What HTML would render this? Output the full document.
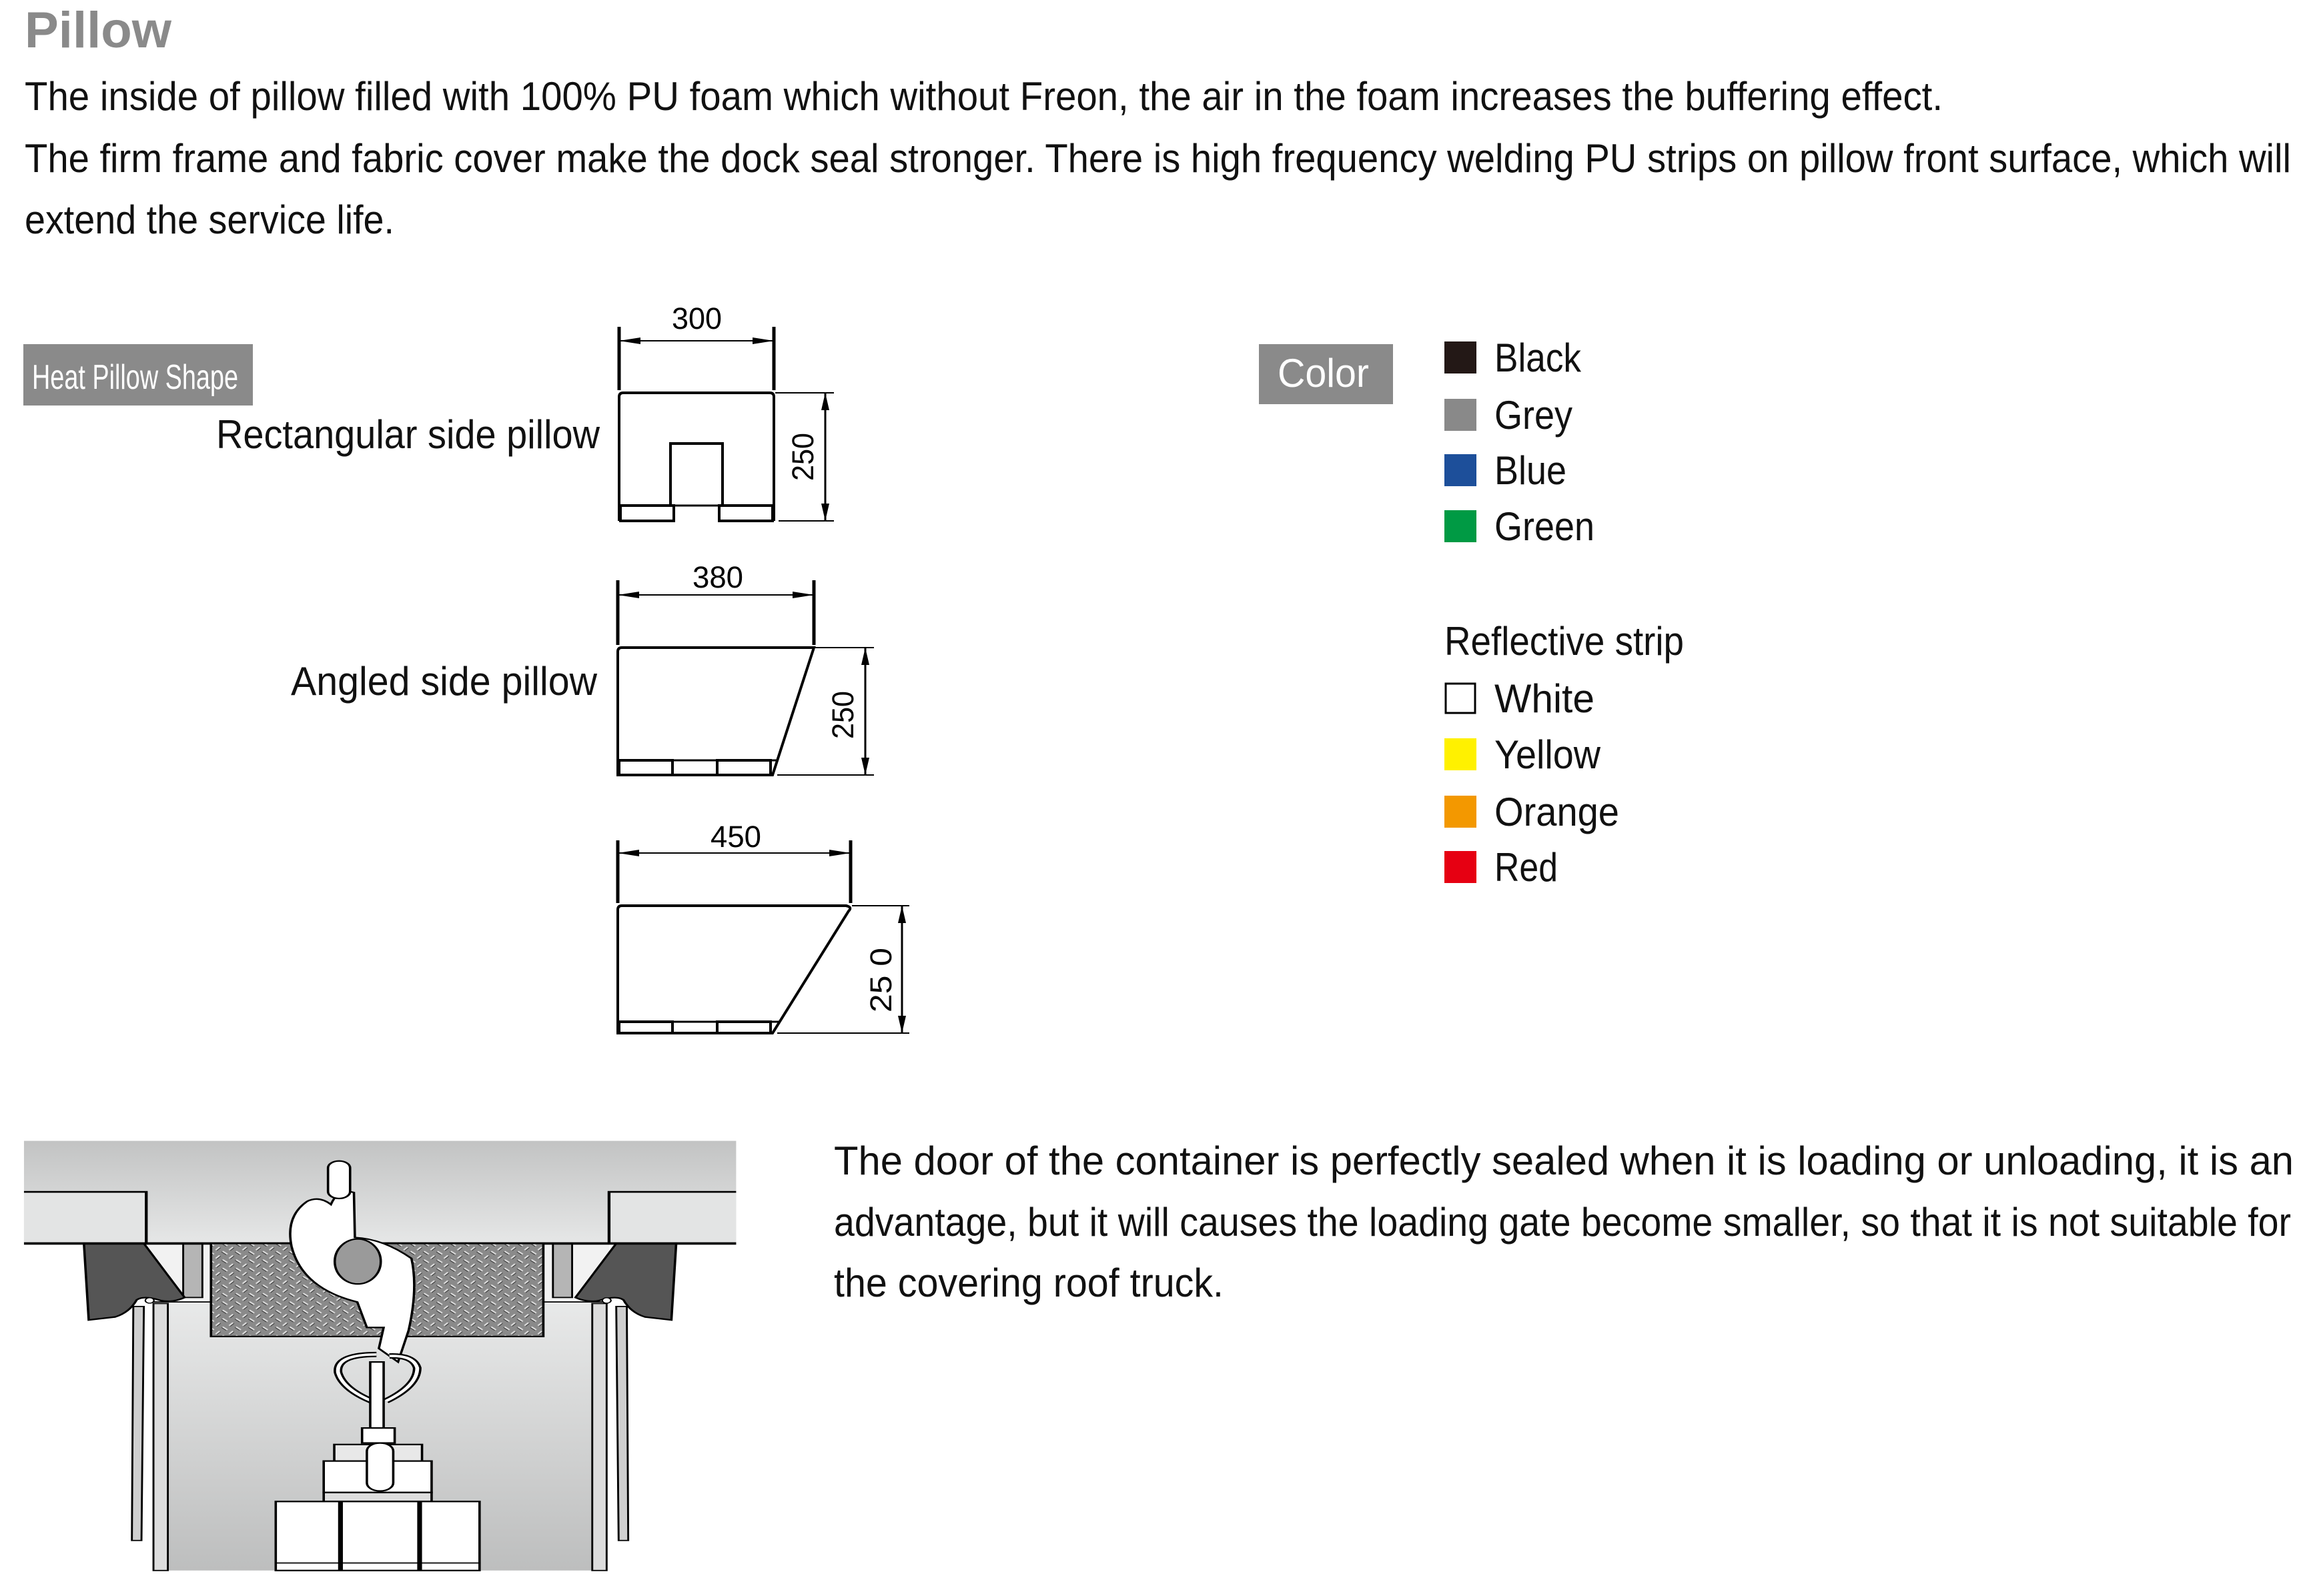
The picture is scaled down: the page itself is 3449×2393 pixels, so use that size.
<!DOCTYPE html>
<html><head><meta charset="utf-8"><style>
html,body{margin:0;padding:0;background:#fff}
svg{display:block}
text{font-family:"Liberation Sans",sans-serif}
</style></head><body>
<svg width="3449" height="2393" viewBox="0 0 3449 2393" xmlns="http://www.w3.org/2000/svg">
<defs>
<linearGradient id="gTop" x1="0" y1="0" x2="0" y2="1"><stop offset="0" stop-color="#c2c3c3"/><stop offset="1" stop-color="#e6e7e7"/></linearGradient>
<linearGradient id="gFloor" x1="0" y1="0" x2="0" y2="1"><stop offset="0" stop-color="#e8e9e9"/><stop offset="1" stop-color="#bdbebe"/></linearGradient>
<pattern id="chk" width="28" height="28" patternUnits="userSpaceOnUse">
<rect width="28" height="28" fill="#8a8a8a"/>
<line x1="2" y1="12" x2="10" y2="2" stroke="#e0e0e0" stroke-width="4"/>
<line x1="16" y1="16" x2="26" y2="26" stroke="#e0e0e0" stroke-width="4"/>
<line x1="4" y1="14" x2="12" y2="4" stroke="#333" stroke-width="2"/>
<line x1="14" y1="18" x2="24" y2="28" stroke="#333" stroke-width="2"/>
</pattern>
</defs>

<text x="37" y="71" font-size="76" font-weight="bold" fill="#8a8a8a" textLength="220" lengthAdjust="spacingAndGlyphs">Pillow</text>
<g font-size="60" fill="#111">
<text x="37" y="165" textLength="2875" lengthAdjust="spacingAndGlyphs">The inside of pillow filled with 100% PU foam which without Freon, the air in the foam increases the buffering effect.</text>
<text x="37" y="258" textLength="3397" lengthAdjust="spacingAndGlyphs">The firm frame and fabric cover make the dock seal stronger. There is high frequency welding PU strips on pillow front surface, which will</text>
<text x="37" y="350" textLength="554" lengthAdjust="spacingAndGlyphs">extend the service life.</text>
</g>

<rect x="35" y="516" width="344" height="92" fill="#8a8a8a"/>
<text x="48" y="583" font-size="52" fill="#fff" textLength="309" lengthAdjust="spacingAndGlyphs">Heat Pillow Shape</text>
<text x="324" y="672" font-size="60" fill="#111" textLength="575" lengthAdjust="spacingAndGlyphs">Rectangular side pillow</text>
<text x="436" y="1042" font-size="60" fill="#111" textLength="459" lengthAdjust="spacingAndGlyphs">Angled side pillow</text>

<g stroke="#000" stroke-width="4" fill="none">
<path d="M928,781 L928,595 Q928,589 934,589 L1154,589 Q1160,589 1160,595 L1160,781"/>
<line x1="928" y1="758" x2="1160" y2="758" stroke-width="3"/>
<path d="M1005,758 L1005,665 L1083,665 L1083,758"/>
<rect x="930" y="758" width="80" height="23"/>
<rect x="1078" y="758" width="80" height="23"/>
<line x1="928" y1="490" x2="928" y2="585" stroke-width="5"/>
<line x1="1160" y1="490" x2="1160" y2="585" stroke-width="5"/>
<line x1="928" y1="511" x2="1160" y2="511" stroke-width="2"/>
<line x1="1162" y1="589" x2="1250" y2="589" stroke-width="2"/>
<line x1="1167" y1="781" x2="1250" y2="781" stroke-width="2"/>
<line x1="1237" y1="589" x2="1237" y2="781" stroke-width="3"/>

<path d="M926,1162 L926,977 Q926,971 932,971 L1220,971 L1158,1162 Z"/>
<line x1="926" y1="1140" x2="1165" y2="1140" stroke-width="3"/>
<rect x="928" y="1140" width="80" height="22"/>
<rect x="1075" y="1140" width="80" height="22"/>
<line x1="926" y1="870" x2="926" y2="967" stroke-width="5"/>
<line x1="1220" y1="870" x2="1220" y2="967" stroke-width="5"/>
<line x1="926" y1="892" x2="1220" y2="892" stroke-width="2"/>
<line x1="1222" y1="971" x2="1310" y2="971" stroke-width="2"/>
<line x1="1165" y1="1162" x2="1310" y2="1162" stroke-width="2"/>
<line x1="1297" y1="971" x2="1297" y2="1162" stroke-width="3"/>

<path d="M926,1549 L926,1364 Q926,1358 932,1358 L1268,1358 Q1278,1360 1272,1366 L1158,1549 Z"/>
<line x1="926" y1="1532" x2="1168" y2="1532" stroke-width="3"/>
<rect x="928" y="1532" width="80" height="17"/>
<rect x="1075" y="1532" width="80" height="17"/>
<line x1="926" y1="1260" x2="926" y2="1354" stroke-width="5"/>
<line x1="1275" y1="1260" x2="1275" y2="1354" stroke-width="5"/>
<line x1="926" y1="1279" x2="1275" y2="1279" stroke-width="2"/>
<line x1="1277" y1="1358" x2="1363" y2="1358" stroke-width="2"/>
<line x1="1165" y1="1549" x2="1363" y2="1549" stroke-width="2"/>
<line x1="1352" y1="1358" x2="1352" y2="1549" stroke-width="3"/>
</g>
<g fill="#000">
<polygon points="928,511 960,506 960,516"/><polygon points="1160,511 1128,506 1128,516"/>
<polygon points="1237,589 1231,615 1243,615"/><polygon points="1237,781 1231,755 1243,755"/>
<polygon points="926,892 958,887 958,897"/><polygon points="1220,892 1188,887 1188,897"/>
<polygon points="1297,971 1291,997 1303,997"/><polygon points="1297,1162 1291,1136 1303,1136"/>
<polygon points="926,1279 958,1274 958,1284"/><polygon points="1275,1279 1243,1274 1243,1284"/>
<polygon points="1352,1358 1346,1384 1358,1384"/><polygon points="1352,1549 1346,1523 1358,1523"/>
</g>
<g font-size="45" fill="#000">
<text x="1007" y="493" textLength="75" lengthAdjust="spacingAndGlyphs">300</text>
<text x="1038" y="881" textLength="76" lengthAdjust="spacingAndGlyphs">380</text>
<text x="1065" y="1270" textLength="76" lengthAdjust="spacingAndGlyphs">450</text>
<text transform="translate(1219,721) rotate(-90)" textLength="72" lengthAdjust="spacingAndGlyphs">250</text>
<text transform="translate(1279,1108) rotate(-90)" textLength="72" lengthAdjust="spacingAndGlyphs">250</text>
<text transform="translate(1336,1518) rotate(-90)" textLength="97" lengthAdjust="spacingAndGlyphs">25 0</text>
</g>

<rect x="1887" y="516" width="201" height="90" fill="#8a8a8a"/>
<text x="1915" y="580" font-size="60" fill="#fff" textLength="137" lengthAdjust="spacingAndGlyphs">Color</text>
<rect x="2165" y="512" width="48" height="48" fill="#231816"/>
<rect x="2165" y="598" width="48" height="48" fill="#898989"/>
<rect x="2165" y="681" width="48" height="48" fill="#1d4f9a"/>
<rect x="2165" y="765" width="48" height="48" fill="#009a44"/>
<rect x="2167" y="1025" width="44" height="44" fill="#fff" stroke="#000" stroke-width="3"/>
<rect x="2165" y="1107" width="48" height="48" fill="#fff100"/>
<rect x="2165" y="1193" width="48" height="48" fill="#f39800"/>
<rect x="2165" y="1276" width="48" height="48" fill="#e60012"/>
<g font-size="60" fill="#111">
<text x="2240" y="557" textLength="130" lengthAdjust="spacingAndGlyphs">Black</text>
<text x="2240" y="643" textLength="117" lengthAdjust="spacingAndGlyphs">Grey</text>
<text x="2240" y="726" textLength="108" lengthAdjust="spacingAndGlyphs">Blue</text>
<text x="2240" y="810" textLength="150" lengthAdjust="spacingAndGlyphs">Green</text>
<text x="2165" y="982" textLength="359" lengthAdjust="spacingAndGlyphs">Reflective strip</text>
<text x="2240" y="1068" textLength="150" lengthAdjust="spacingAndGlyphs">White</text>
<text x="2240" y="1152" textLength="159" lengthAdjust="spacingAndGlyphs">Yellow</text>
<text x="2240" y="1238" textLength="187" lengthAdjust="spacingAndGlyphs">Orange</text>
<text x="2240" y="1321" textLength="95" lengthAdjust="spacingAndGlyphs">Red</text>
</g>

<g font-size="60" fill="#111">
<text x="1250" y="1761" textLength="2188" lengthAdjust="spacingAndGlyphs">The door of the container is perfectly sealed when it is loading or unloading, it is an</text>
<text x="1250" y="1853" textLength="2184" lengthAdjust="spacingAndGlyphs">advantage, but it will causes the loading gate become smaller, so that it is not suitable for</text>
<text x="1250" y="1944" textLength="584" lengthAdjust="spacingAndGlyphs">the covering roof truck.</text>
</g>

<svg x="0" y="1680" width="1130" height="713" viewBox="0 0 1572 1585" preserveAspectRatio="none">
<rect x="50" y="68" width="1485" height="342" fill="url(#gTop)"/>
<rect x="50" y="238" width="255" height="172" fill="#e3e4e4"/>
<rect x="1270" y="238" width="265" height="172" fill="#e3e4e4"/>
<polyline points="50,238 305,238 305,410" fill="none" stroke="#000" stroke-width="6"/>
<polyline points="1535,238 1270,238 1270,410" fill="none" stroke="#000" stroke-width="6"/>
<rect x="350" y="605" width="885" height="895" fill="url(#gFloor)"/>
<rect x="305" y="410" width="965" height="195" fill="#f2f2f2"/>
<rect x="320" y="610" width="30" height="890" fill="#dcdcdc" stroke="#000" stroke-width="4"/>
<rect x="1235" y="610" width="30" height="890" fill="#dcdcdc" stroke="#000" stroke-width="4"/>
<polygon points="278,620 300,620 295,1400 275,1400" fill="#cfcfcf" stroke="#000" stroke-width="4"/>
<polygon points="1285,620 1307,620 1310,1400 1290,1400" fill="#cfcfcf" stroke="#000" stroke-width="4"/>
<rect x="382" y="410" width="40" height="180" fill="#b5b5b5" stroke="#000" stroke-width="4"/>
<rect x="1153" y="410" width="40" height="180" fill="#b5b5b5" stroke="#000" stroke-width="4"/>
<line x1="305" y1="605" x2="440" y2="605" stroke="#000" stroke-width="4"/>
<line x1="1133" y1="605" x2="1270" y2="605" stroke="#000" stroke-width="4"/>
<path d="M175,410 L300,410 L385,590 Q360,608 335,600 Q300,582 285,598 Q270,640 240,655 L185,665 Z" fill="#555" stroke="#000" stroke-width="5"/>
<path d="M1410,410 L1285,410 L1200,590 Q1225,608 1250,600 Q1285,582 1300,598 Q1315,640 1345,655 L1400,665 Z" fill="#555" stroke="#000" stroke-width="5"/>
<circle cx="312" cy="600" r="9" fill="#fff" stroke="#000" stroke-width="3"/>
<circle cx="1265" cy="600" r="9" fill="#fff" stroke="#000" stroke-width="3"/>
<line x1="50" y1="410" x2="1535" y2="410" stroke="#000" stroke-width="8"/>
<rect x="440" y="410" width="693" height="310" fill="url(#chk)" stroke="#000" stroke-width="5"/>
<path d="M640,270 Q595,320 608,420 Q630,560 745,605 L765,690 L800,690 L790,760 L830,805 L852,700 Q872,560 858,460 Q800,395 740,390 L738,240 Q705,225 690,280 Q665,250 640,270 Z" fill="#fff" stroke="#000" stroke-width="5"/>
<rect x="684" y="135" width="46" height="125" rx="23" fill="#fff" stroke="#000" stroke-width="5"/>
<ellipse cx="746" cy="470" rx="48" ry="75" fill="#9a9a9a" stroke="#000" stroke-width="5"/>
<path d="M785,780 Q700,780 705,840 Q715,895 775,935 M805,935 Q870,885 870,825 Q862,782 812,785" fill="none" stroke="#000" stroke-width="18"/>
<path d="M785,780 Q700,780 705,840 Q715,895 775,935 M805,935 Q870,885 870,825 Q862,782 812,785" fill="none" stroke="#fff" stroke-width="8"/>
<rect x="772" y="805" width="28" height="255" fill="#fff" stroke="#000" stroke-width="5"/>
<rect x="755" y="1025" width="68" height="50" fill="#fff" stroke="#000" stroke-width="5"/>
<rect x="697" y="1080" width="183" height="60" fill="#e8e8e8" stroke="#000" stroke-width="5"/>
<polygon points="675,1135 900,1135 900,1240 675,1240" fill="#fff" stroke="#000" stroke-width="5"/>
<rect x="765" y="1075" width="55" height="160" rx="27" fill="#fff" stroke="#000" stroke-width="5"/>
<rect x="675" y="1240" width="225" height="30" fill="#ddd" stroke="#000" stroke-width="5"/>
<rect x="575" y="1270" width="425" height="230" fill="#fff" stroke="#000" stroke-width="5"/>
<line x1="710" y1="1270" x2="710" y2="1500" stroke="#000" stroke-width="10"/>
<line x1="875" y1="1270" x2="875" y2="1500" stroke="#000" stroke-width="10"/>
<line x1="575" y1="1475" x2="1000" y2="1475" stroke="#000" stroke-width="4"/>
</svg>
</svg>
</body></html>
